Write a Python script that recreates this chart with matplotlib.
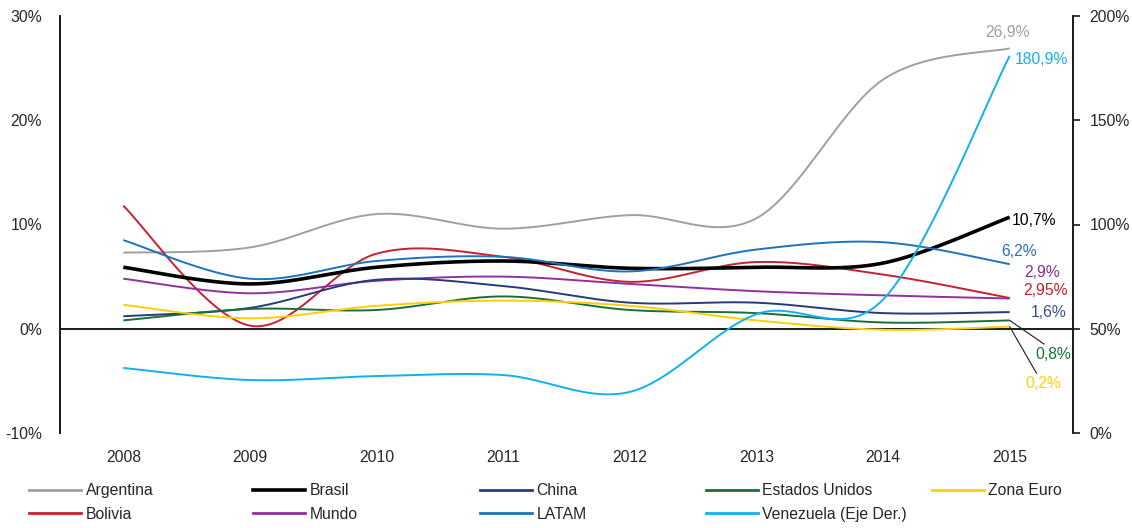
import numpy as np
import matplotlib
matplotlib.use("Agg")
import matplotlib.pyplot as plt
from matplotlib.lines import Line2D

years = ["2008", "2009", "2010", "2011", "2012", "2013", "2014", "2015"]

argentina = [7.3, 7.8, 11.0, 9.6, 10.9, 10.6, 23.9, 26.9]
brasil    = [5.9, 4.3, 5.9, 6.5, 5.8, 5.9, 6.3, 10.7]
china     = [1.2, 2.0, 4.7, 4.1, 2.5, 2.5, 1.5, 1.6]
eeuu      = [0.8, 1.9, 1.8, 3.1, 1.8, 1.5, 0.6, 0.8]
zona_euro = [2.3, 1.0, 2.2, 2.7, 2.2, 0.8, -0.1, 0.2]
bolivia   = [11.8, 0.3, 7.2, 6.9, 4.5, 6.4, 5.2, 2.95]
mundo     = [4.8, 3.4, 4.6, 5.0, 4.3, 3.6, 3.2, 2.9]
latam     = [8.5, 4.8, 6.5, 6.9, 5.5, 7.6, 8.3, 6.2]
venezuela = [31.2, 25.4, 27.3, 27.8, 19.7, 57.0, 64.0, 180.9]

end_labels = {
    "Argentina": "26,9%", "Brasil": "10,7%", "China": "1,6%",
    "Estados Unidos": "0,8%", "Zona Euro": "0,2%", "Bolivia": "2,95%",
    "Mundo": "2,9%", "LATAM": "6,2%", "Venezuela (Eje Der.)": "180,9%",
}

plt.rcParams["font.family"] = ["Liberation Sans", "DejaVu Sans"]
FS = 11.3

def smooth(ys, n=40):
    ys = np.asarray(ys, float)
    xs = np.arange(len(ys), dtype=float)
    P = np.column_stack([xs, ys])
    Pp = np.vstack([P[0], P, P[-1]])
    out = []
    t = np.linspace(0, 1, n)[:, None]
    for i in range(len(P) - 1):
        P0, P1, P2, P3 = Pp[i], Pp[i + 1], Pp[i + 2], Pp[i + 3]
        C1 = P1 + (P2 - P0) / 6.0
        C2 = P2 - (P3 - P1) / 6.0
        seg = ((1 - t) ** 3) * P1 + 3 * ((1 - t) ** 2) * t * C1 + 3 * (1 - t) * t ** 2 * C2 + t ** 3 * P2
        out.append(seg if i == 0 else seg[1:])
    out = np.vstack(out)
    return out[:, 0], out[:, 1]

fig = plt.figure(figsize=(11.32, 5.28), dpi=100)
ax = fig.add_axes([60 / 1132, 1 - 433 / 528, (1073 - 60) / 1132, (433 - 16) / 528])
ax2 = ax.twinx()

series = [
    ("Argentina", argentina, "#A0A0A0", 1.4, ax),
    ("Bolivia", bolivia, "#C8202F", 1.4, ax),
    ("Brasil", brasil, "#000000", 2.6, ax),
    ("Mundo", mundo, "#912F9E", 1.4, ax),
    ("China", china, "#253C7C", 1.4, ax),
    ("LATAM", latam, "#1E73BE", 1.4, ax),
    ("Estados Unidos", eeuu, "#17703C", 1.4, ax),
    ("Venezuela (Eje Der.)", venezuela, "#10B2EE", 1.4, ax2),
    ("Zona Euro", zona_euro, "#FFD000", 1.4, ax),
]

label_colors = {"LATAM": "#2F6EBA", "China": "#3B4E8C", "Mundo": "#8E2C8E"}
# offsets in pixels (dx, dy), horizontal alignment
label_off = {
    "Argentina": (-2, 16, "center"),
    "Venezuela (Eje Der.)": (5, -4, "left"),
    "Brasil": (2, -3, "left"),
    "LATAM": (-8, 13, "left"),
    "Mundo": (15, 26, "left"),
    "Bolivia": (14, 7, "left"),
    "China": (21, 0, "left"),
    "Estados Unidos": (26, -34, "left"),
    "Zona Euro": (16, -57, "left"),
}

ax.axhline(0, color="#1a1a1a", lw=1.4, zorder=1)

handles = {}
for name, vals, col, lw, a in series:
    xs, ys = smooth(vals)
    a.plot(xs, ys, color=col, lw=lw, solid_capstyle="butt", zorder=3)
    handles[name] = Line2D([], [], color=col, lw=2.6 if name == "Brasil" else 2.0)
    dx, dy, ha = label_off[name]
    tcol = label_colors.get(name, col)
    kw = dict(textcoords="offset pixels", ha=ha, va="center", fontsize=FS, color=tcol, zorder=5)
    if name in ("Estados Unidos", "Zona Euro"):
        kw["arrowprops"] = dict(arrowstyle="-", color="#1a1a1a", lw=0.8, shrinkA=0, shrinkB=0,
                                relpos=(0.35, 1.0))
    a.annotate(end_labels[name], xy=(len(vals) - 1, vals[-1]), xytext=(dx, dy), **kw)

ax.set_xlim(-0.5, len(years) - 0.5)
ax.set_ylim(-10, 30)
ax2.set_ylim(0, 200)
ax.set_xticks(range(len(years)))
ax.set_xticklabels(years)
ax.set_yticks([-10, 0, 10, 20, 30])
ax.set_yticklabels(["-10%", "0%", "10%", "20%", "30%"])
ax2.set_yticks([0, 50, 100, 150, 200])
ax2.set_yticklabels(["0%", "50%", "100%", "150%", "200%"])

for a in (ax, ax2):
    for s in ("top", "bottom"):
        a.spines[s].set_visible(False)
ax.spines["right"].set_visible(False)
ax2.spines["left"].set_visible(False)
ax.spines["left"].set_color("#1a1a1a")
ax.spines["left"].set_linewidth(1.4)
ax2.spines["right"].set_color("#1a1a1a")
ax2.spines["right"].set_linewidth(1.4)

ax.tick_params(axis="x", length=0, pad=12, labelsize=FS, labelcolor="#262626")
ax.tick_params(axis="y", length=0, pad=13, labelsize=FS, labelcolor="#262626")
ax2.tick_params(axis="y", length=5, width=1.2, color="#1a1a1a", direction="out", pad=7,
                labelsize=FS, labelcolor="#262626")

# legend: 5 columns, 2 rows, filled row-wise
rows = [["Argentina", "Brasil", "China", "Estados Unidos", "Zona Euro"],
        ["Bolivia", "Mundo", "LATAM", "Venezuela (Eje Der.)"]]
col_x = [29, 253, 480, 706, 932]
for c in range(5):
    names = [r[c] for r in rows if c < len(r)]
    fig.legend([handles[n] for n in names], names, loc="upper left",
               bbox_to_anchor=(col_x[c] / 1132, 1 - 483 / 528), frameon=False,
               fontsize=FS, handlelength=3.3, handletextpad=0.3, labelspacing=0.55,
               borderaxespad=0, borderpad=0.0, labelcolor="#262626")

fig.savefig("out.png", dpi=100)
